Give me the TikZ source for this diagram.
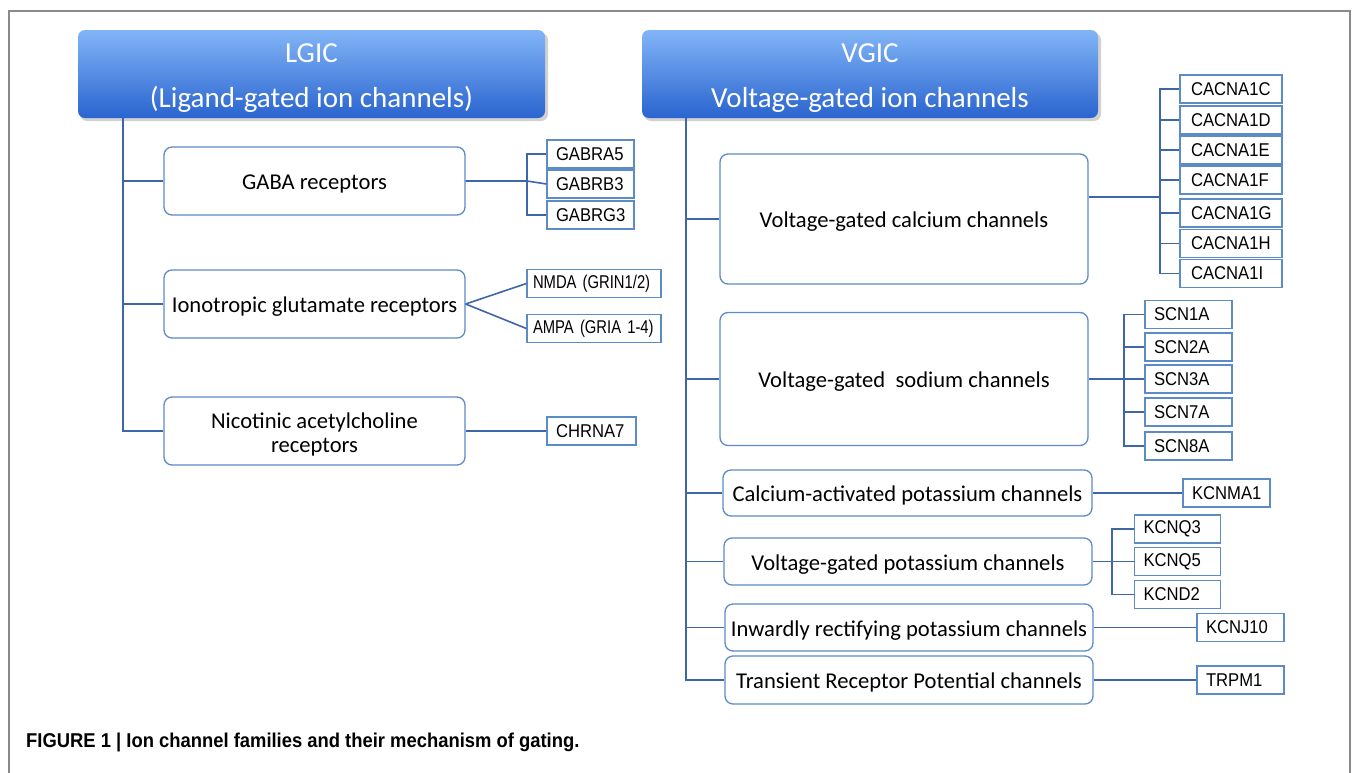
\documentclass[tikz,border=0pt]{standalone}
\usepackage{fontspec}
\setmainfont{Carlito}
\newfontfamily\genefont[FakeStretch=0.9]{Liberation Sans}
\newfontfamily\genenarrow[FakeStretch=0.8]{Liberation Sans}
\newfontfamily\capfont[FakeStretch=0.92]{Liberation Sans}
\definecolor{hdtop}{HTML}{82B5F7}
\definecolor{hdbot}{HTML}{2A64CF}
\definecolor{bxline}{HTML}{5D8BC6}
\definecolor{cnline}{HTML}{3F66A6}
\definecolor{framecol}{HTML}{8A8A8A}
\begin{document}
\begin{tikzpicture}[x=1pt,y=-1pt,
  hdr/.style={rounded corners=7pt, top color=hdtop, bottom color=hdbot, draw=none, inner sep=0},
  hdrtext/.style={text=white, font=\fontsize{29}{45}\selectfont, align=center, inner sep=0},
  mbox/.style={draw=bxline, line width=1.3pt, rounded corners=8pt, fill=white,
    font=\fontsize{22.6}{24}\selectfont, align=center, inner sep=0, text height=17, text depth=0},
  mtext/.style={font=\fontsize{22.6}{24}\selectfont, align=center, inner sep=0},
  gbox/.style={draw=bxline, line width=1.2pt, fill=white,
    font=\genefont\fontsize{18.5}{21}\selectfont, align=left, inner xsep=9, inner ysep=0,
    minimum height=28},
  conn/.style={draw=cnline, line width=1.6pt}]
\useasboundingbox (0,0) rectangle (1353,772);
\draw[framecol, line width=1.6pt] (9,11) rectangle (1350,790);

% headers
\fill[black, opacity=0.18, rounded corners=7pt] (80,33) rectangle (548,121);
\fill[black, opacity=0.18, rounded corners=7pt] (644,33) rectangle (1101,121);
\node[hdr, minimum width=467, minimum height=88] (lgic) at (311.5,74) {};
\node[hdrtext] (lgict) at ([yshift=-4]lgic.center) {LGIC\\(Ligand-gated ion channels)};
\node[hdr, minimum width=456, minimum height=88] (vgic) at (870,74) {};
\node[hdrtext] (vgict) at ([yshift=-4]vgic.center) {VGIC\\Voltage-gated ion channels};

% LGIC families
\node[mbox, minimum width=301, minimum height=68] (gaba) at (314.5,181) {GABA receptors};
\node[mbox, minimum width=301, minimum height=68] (iono) at (314.5,304) {Ionotropic glutamate receptors};
\node[mbox, minimum width=301, minimum height=68, text height=, text depth=] (nic) at (314.5,431) {};
\node[mtext] (nict) at ([yshift=-3]nic.center) {Nicotinic acetylcholine\\receptors};

\node[gbox, text width=69] (gabra5) at (590.5,154) {GABRA5};
\node[gbox, text width=69] (gabrb3) at (590.5,184) {GABRB3};
\node[gbox, text width=69] (gabrg3) at (590.5,215) {GABRG3};
\node[gbox, font=\genenarrow\fontsize{18.5}{21}\selectfont, inner xsep=6, text width=122] (nmda) at (594,283.5) {NMDA (GRIN1/2)};
\node[gbox, font=\genenarrow\fontsize{18.5}{21}\selectfont, inner xsep=6, text width=122] (ampa) at (594,328.5) {AMPA (GRIA 1-4)};
\node[gbox, text width=71] (chrna7) at (591.5,431) {CHRNA7};

% VGIC families
\node[mbox, minimum width=368, minimum height=130] (vgcc) at (904,219) {Voltage-gated calcium channels};
\node[mbox, minimum width=368, minimum height=133] (vgsc) at (904,379) {Voltage-gated\ \ sodium channels};
\node[mbox, minimum width=369, minimum height=46] (cak) at (907.5,493) {Calcium-activated potassium channels};
\node[mbox, minimum width=368, minimum height=47] (kv) at (908,561.5) {Voltage-gated potassium channels};
\node[mbox, minimum width=368, minimum height=47] (kir) at (909,627.5) {Inwardly rectifying potassium channels};
\node[mbox, minimum width=368, minimum height=48] (trp) at (909,680) {Transient Receptor Potential channels};

\node[gbox, inner xsep=11, text width=80] (c1c) at (1231,89) {CACNA1C};
\node[gbox, inner xsep=11, text width=80] (c1d) at (1231,120) {CACNA1D};
\node[gbox, inner xsep=11, text width=80] (c1e) at (1231,150) {CACNA1E};
\node[gbox, inner xsep=11, text width=80] (c1f) at (1231,180) {CACNA1F};
\node[gbox, inner xsep=11, text width=80] (c1g) at (1231,213) {CACNA1G};
\node[gbox, inner xsep=11, text width=80] (c1h) at (1231,243.5) {CACNA1H};
\node[gbox, inner xsep=11, text width=80] (c1i) at (1231,273.5) {CACNA1I};

\node[gbox, text width=69] (scn1a) at (1188.5,314.5) {SCN1A};
\node[gbox, text width=69] (scn2a) at (1188.5,347) {SCN2A};
\node[gbox, text width=69] (scn3a) at (1188.5,379) {SCN3A};
\node[gbox, text width=69] (scn7a) at (1188.5,412) {SCN7A};
\node[gbox, text width=69] (scn8a) at (1188.5,446) {SCN8A};

\node[gbox, text width=69] (kcnma1) at (1226.5,493) {KCNMA1};
\node[gbox, text width=68] (kcnq3) at (1177.5,529) {KCNQ3};
\node[gbox, text width=68] (kcnq5) at (1177.5,561.5) {KCNQ5};
\node[gbox, text width=68] (kcnd2) at (1177.5,594.5) {KCND2};
\node[gbox, text width=69] (kcnj10) at (1240.5,627.5) {KCNJ10};
\node[gbox, text width=69] (trpm1) at (1240.5,680) {TRPM1};

% trunks
\coordinate (lt) at ([xshift=45]lgic.south west);
\coordinate (vt) at ([xshift=44]vgic.south west);
\draw[conn] (lt) |- (nic.west);
\draw[conn] (gaba.west) -- (gaba.west -| lt);
\draw[conn] (iono.west) -- (iono.west -| lt);
\draw[conn] (vt) |- (trp.west);
\foreach \n in {vgcc,vgsc,cak,kv,kir}
  \draw[conn] (\n.west) -- (\n.west -| vt);

% GABA bracket
\coordinate (gb) at (527,0);
\draw[conn] (gabra5.west) -- (gabra5.west -| gb) -- (gabrg3.west -| gb) -- (gabrg3.west);
\draw[conn] (gaba.east) -- (gaba.east -| gb) -- (gabrb3.west);
\draw[conn] (iono.east) -- (nmda.west);
\draw[conn] (iono.east) -- (ampa.west);
\draw[conn] (nic.east) -- (chrna7.west);

% calcium bracket
\coordinate (cb) at (1160,0);
\draw[conn] (c1c.west) -- (c1c.west -| cb) -- (c1i.west -| cb) -- (c1i.west);
\foreach \n in {c1d,c1e,c1f,c1g,c1h}
  \draw[conn] (\n.west) -- (\n.west -| cb);
\draw[conn] ([yshift=22]vgcc.east) -- ([yshift=22]vgcc.east -| cb);

% sodium bracket
\coordinate (sb) at (1124,0);
\draw[conn] (scn1a.west) -- (scn1a.west -| sb) -- (scn8a.west -| sb) -- (scn8a.west);
\foreach \n in {scn2a,scn7a}
  \draw[conn] (\n.west) -- (\n.west -| sb);
\draw[conn] (vgsc.east) -- (scn3a.west);

% potassium
\draw[conn] (cak.east) -- (kcnma1.west);
\coordinate (kb) at (1112,0);
\draw[conn] (kcnq3.west) -- (kcnq3.west -| kb) -- (kcnd2.west -| kb) -- (kcnd2.west);
\draw[conn] (kv.east) -- (kcnq5.west);
\draw[conn] (kir.east) -- (kcnj10.west);
\draw[conn] (trp.east) -- (trpm1.west);

% caption
\node[anchor=base west, inner sep=0, font=\capfont\bfseries\fontsize{20}{24}\selectfont] (cap) at (26,747)
  {FIGURE 1 | Ion channel families and their mechanism of gating.};
\end{tikzpicture}
\end{document}
